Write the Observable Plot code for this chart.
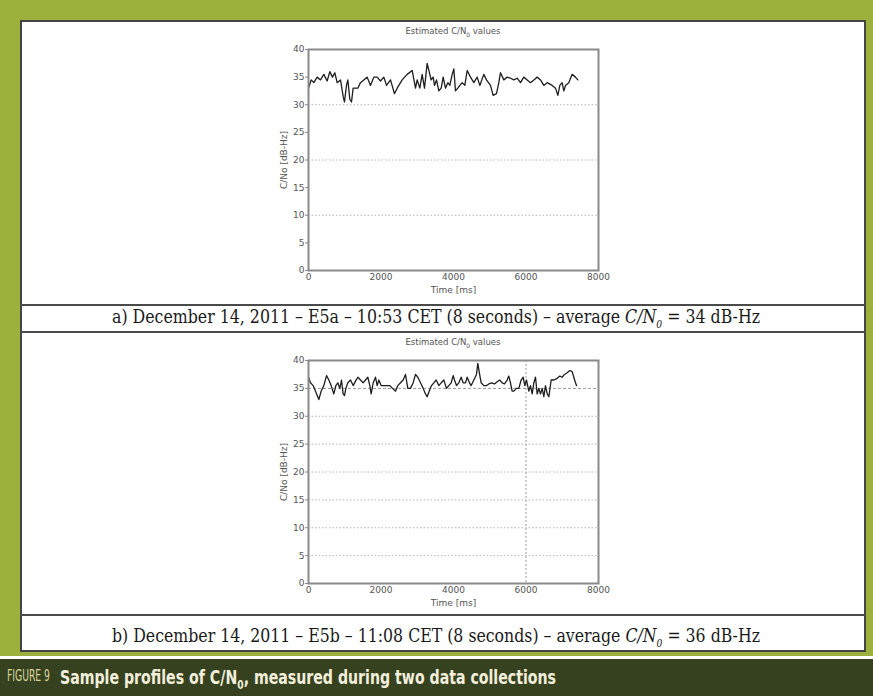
<!DOCTYPE html>
<html>
<head>
<meta charset="utf-8">
<script src="https://cdn.jsdelivr.net/npm/d3@7"></script>
<script src="https://cdn.jsdelivr.net/npm/@observablehq/plot@0.6"></script>
<style>
  body { margin: 0; }
  #fig { position: relative; width: 873px; height: 696px; background: #9cb13b; overflow: hidden; font-family: "DejaVu Sans", sans-serif; }
  .abs { position: absolute; }
  .sep { position: absolute; left: 20px; width: 846px; height: 2px; background: #4a4a4a; }
  .ctitle { position: absolute; width: 290px; text-align: center; font-size: 8.5px; color: #555; white-space: nowrap; font-family: "DejaVu Sans", sans-serif; }
  .cap { position: absolute; white-space: nowrap; font-family: "DejaVu Serif Condensed", "DejaVu Serif", "Liberation Serif", serif; font-size: 19px; color: #1a1a1a; transform-origin: left center; }
  .figcap { position: absolute; white-space: nowrap; font-family: "Liberation Sans Narrow", "DejaVu Sans Condensed", "Liberation Sans", sans-serif; transform-origin: left center; }
</style>
</head>
<body>
<div id="fig">
  <div class="abs" style="left:20px;top:20px;width:842px;height:628px;background:#fff;border:2px solid #444;"></div>
  <div class="sep" style="top:304px;"></div>
  <div class="sep" style="top:331px;"></div>
  <div class="sep" style="top:614px;"></div>
  <div class="ctitle" style="left:308px;top:26px;">Estimated C/N<sub style="font-size:6px">0</sub> values</div>
  <div class="ctitle" style="left:308px;top:337px;">Estimated C/N<sub style="font-size:6px">0</sub> values</div>
  <div id="chartA" class="abs" style="left:250px;top:22px;"></div>
  <div id="chartB" class="abs" style="left:250px;top:332px;"></div>
  <div id="capA" class="cap" style="left:112px;top:305px;">a) December 14, 2011 – E5a – 10:53 CET (8 seconds) – average <i>C/N<sub style="font-size:11px">0</sub></i> = 34 dB-Hz</div>
  <div id="capB" class="cap" style="left:112px;top:624px;">b) December 14, 2011 – E5b – 11:08 CET (8 seconds) – average <i>C/N<sub style="font-size:11px">0</sub></i> = 36 dB-Hz</div>
  <div class="abs" style="left:0;top:656px;width:873px;height:3px;background:#ffffff;"></div>
  <div class="abs" style="left:0;top:659px;width:873px;height:37px;background:#36421f;"></div>
  <div id="fig9" class="figcap" style="left:7px;top:667px;font-size:15px;color:#dcd69c;">FIGURE 9</div>
  <div id="figtxt" class="figcap" style="left:60px;top:665px;font-size:20px;font-weight:bold;color:#f3efdc;">Sample profiles of C/N<sub style="font-size:13px">0</sub>, measured during two data collections</div>
</div>
<script>
// ---- Data ----
const timeA = [0,74,147,239,331,423,515,588,662,726,791,883,956,993,1048,1085,1140,1186,1232,1297,1361,1434,1526,1618,1710,1802,1894,1986,2078,2152,2262,2372,2446,2584,2722,2860,2952,2998,3071,3135,3200,3273,3329,3384,3439,3476,3531,3595,3660,3715,3779,3844,3899,3963,4009,4055,4119,4175,4239,4312,4377,4469,4561,4653,4726,4837,4910,5020,5094,5186,5250,5296,5388,5480,5572,5664,5756,5848,5940,6032,6124,6216,6308,6400,6492,6584,6722,6814,6878,6933,6997,7043,7090,7181,7273,7365,7430];
const cnoA = [33,34.5,34,35,34.5,35.5,34.3,36,35,35.8,34,34.5,31.5,30.5,33.5,34.5,31,30.5,33,33,33,34,34.5,35,33.5,35,35,34.3,35,33.5,34.5,32,33,34.5,35.5,36.2,33,34.5,33,35.5,33,37.5,36,34.5,35,33.5,34.5,32.5,33,35,33,34,33.5,35.5,36.5,32.5,33,33.5,34,33.5,36.2,35,34,35,33.5,35.5,34.5,33.5,31.7,32,34,35.8,34.5,35,34.8,34.5,34.8,34,35,34.5,34,34.5,35,34.5,33.5,34,33.5,33,31.7,33.5,34,32.5,33.5,34,35.5,35,34.5];
const timeB = [0,55,129,193,285,349,423,497,561,625,699,754,809,864,910,956,993,1030,1085,1159,1232,1297,1361,1434,1508,1572,1637,1692,1729,1784,1848,1894,1940,2004,2096,2170,2244,2317,2400,2464,2538,2611,2676,2740,2814,2887,2952,3016,3090,3163,3227,3273,3329,3393,3457,3522,3595,3660,3733,3807,3871,3935,3991,4027,4083,4147,4211,4267,4331,4377,4441,4487,4561,4634,4671,4708,4763,4837,4910,4975,5048,5131,5204,5278,5342,5407,5480,5526,5572,5618,5664,5738,5802,5866,5922,5968,6014,6078,6124,6170,6216,6262,6308,6354,6400,6446,6492,6538,6584,6630,6694,6768,6860,6933,6997,7062,7135,7209,7273,7319,7365,7393];
const cnoB = [37,36,35.5,34.5,33,34.5,35.5,37.3,36.5,35.5,34,35.5,36,35,36.5,34,33.7,35,36,36.5,35.5,36.3,37,36.5,36,36.5,37,35.5,34,36,37,35.5,36.5,35.5,35.5,35.5,35.5,35,34.5,35.5,36,36.5,37.5,35,35,36,37.5,37,36,35,34,33.5,34.5,35.5,36,36.5,35.5,36,36.5,35,35.5,36,37.3,36.5,35.5,36,37,36,36,37,36,35.5,36.5,37.5,39.5,38,36,35.5,35.5,35.8,36,35.8,36.2,36.5,36,35.8,36.5,37.2,36,34.5,34.5,35,35,36.5,37,35.5,36.5,34.5,35.5,34,36,37,34,35,34,35,33.5,35.5,34,33.5,36.5,36.5,36.8,37.2,37,37.5,37.8,38.2,38,37,36,35.5];
const xTicks = [0,2000,4000,6000,8000];
const yTicks = [0,5,10,15,20,25,30,35,40];
const gridA = [10,20,30];
const gridB = [5,10,15,20,25,30];
const gridB35 = [35];
const vGridB = [6000];

function chart(time, vals, opts) {
  const marks = [
    Plot.ruleY(opts.grid, {stroke: "#b5b5b5", strokeDasharray: "1.5,2", strokeWidth: 1}),
  ];
  if (opts.grid35) marks.push(Plot.ruleY(opts.grid35, {stroke: "#999", strokeDasharray: "3,2", strokeWidth: 1}));
  if (opts.vgrid) marks.push(Plot.ruleX(opts.vgrid, {stroke: "#999", strokeDasharray: "2,2", strokeWidth: 1}));
  marks.push(
    Plot.line(vals, {x: time, y: vals, stroke: "#1e1e1e", strokeWidth: 1.3}),
    Plot.frame({stroke: "#8a8a8a", strokeWidth: 2}),
    Plot.axisX({ticks: xTicks, tickSize: 0, tickPadding: 3, tickFormat: d => String(d), label: "Time [ms]", labelAnchor: "center", labelArrow: "none", labelOffset: 22, fill: "#555"}),
    Plot.axisY({ticks: yTicks, tickSize: 3, tickPadding: 1, tickFormat: d => String(d), label: "C/No [dB-Hz]", labelAnchor: "center", labelArrow: "none", labelOffset: 28, fill: "#555", stroke: "#888"})
  );
  return Plot.plot({
    width: 360,
    height: opts.height,
    marginLeft: 58,
    marginRight: 12,
    marginTop: opts.mt,
    marginBottom: opts.mb,
    x: {domain: [0, 8000]},
    y: {domain: [0, 40]},
    style: {fontSize: "9px", fontFamily: "DejaVu Sans, sans-serif", color: "#555", background: "transparent", overflow: "visible"},
    marks
  });
}

document.getElementById("chartA").appendChild(chart(timeA, cnoA, {grid: gridA, height: 282, mt: 27, mb: 34}));
document.getElementById("chartB").appendChild(chart(timeB, cnoB, {grid: gridB, grid35: gridB35, vgrid: vGridB, height: 283, mt: 28, mb: 32}));

function fit(id, w) {
  const el = document.getElementById(id);
  const cur = el.getBoundingClientRect().width;
  el.style.transform = `scaleX(${w / cur})`;
}
fit("capA", 648);
fit("capB", 648);
fit("fig9", 43);
fit("figtxt", 496);
</script>
</body>
</html>
